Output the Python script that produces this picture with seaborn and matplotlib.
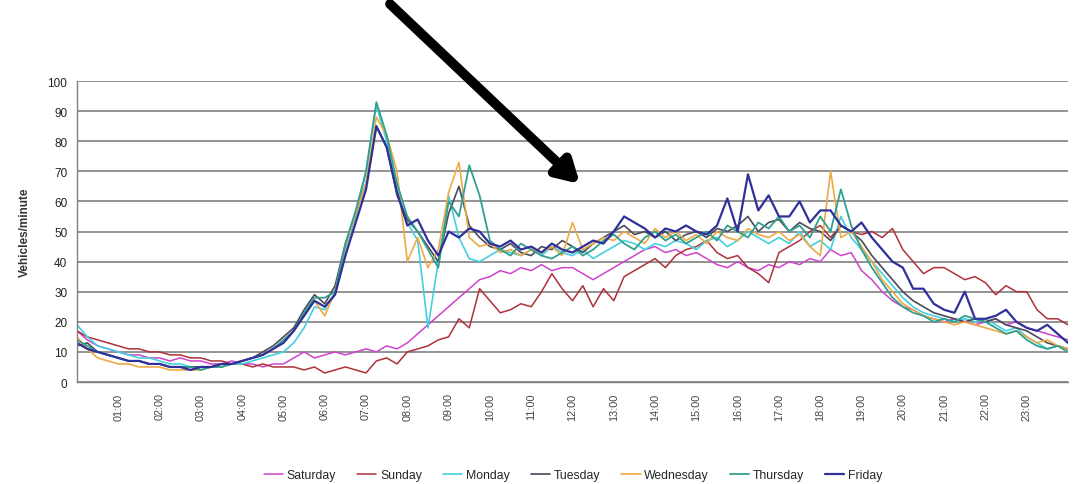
import numpy as np
import pandas as pd
import matplotlib
matplotlib.use("Agg")
import matplotlib.pyplot as plt
from matplotlib.ticker import MultipleLocator, FixedLocator
import seaborn as sns

# ---------- Data (vehicles/minute, 15 minute steps 00:00 -> 24:00) ----------
days = ["Saturday", "Sunday", "Monday", "Tuesday", "Wednesday", "Thursday", "Friday"]
colors = ["#cc44cc", "#b0303a", "#44d0e0", "#4a4a5a", "#eeaa44", "#30a090", "#30309a"]
widths = [1.1, 1.1, 1.2, 1.2, 1.2, 1.3, 1.6]

saturday = [17, 14, 12, 11, 10, 9, 9, 8, 8, 7, 8, 7,
            7, 6, 6, 7, 6, 6, 5, 6, 6, 8, 10, 8,
            9, 10, 9, 10, 11, 10, 12, 11, 13, 16, 19, 22,
            25, 28, 31, 34, 35, 37, 36, 38, 37, 39, 37, 38,
            38, 36, 34, 36, 38, 40, 42, 44, 45, 43, 44, 42,
            43, 41, 39, 38, 40, 38, 37, 39, 38, 40, 39, 41,
            40, 44, 42, 43, 37, 34, 30, 27, 25, 24, 22, 21,
            20, 21, 20, 19, 20, 21, 19, 20, 18, 17, 16, 15, 14]
sunday = [17, 15, 14, 13, 12, 11, 11, 10, 10, 9, 9, 8,
          8, 7, 7, 6, 6, 5, 6, 5, 5, 5, 4, 5,
          3, 4, 5, 4, 3, 7, 8, 6, 10, 11, 12, 14,
          15, 21, 18, 31, 27, 23, 24, 26, 25, 30, 36, 31,
          27, 32, 25, 31, 27, 35, 37, 39, 41, 38, 42, 44,
          45, 47, 43, 41, 42, 38, 36, 33, 43, 45, 47, 50,
          52, 48, 52, 50, 49, 50, 48, 51, 44, 40, 36, 38,
          38, 36, 34, 35, 33, 29, 32, 30, 30, 24, 21, 21, 19]
monday = [19, 15, 12, 11, 10, 9, 8, 8, 7, 6, 6, 5,
          5, 5, 5, 6, 6, 7, 8, 9, 10, 13, 18, 25,
          24, 30, 44, 55, 70, 92, 80, 64, 53, 47, 18, 40,
          62, 48, 41, 40, 42, 44, 43, 42, 44, 42, 45, 43,
          42, 44, 41, 43, 45, 47, 46, 44, 46, 45, 47, 46,
          44, 47, 48, 45, 47, 50, 48, 46, 48, 46, 50, 45,
          47, 44, 55, 48, 44, 40, 36, 32, 28, 25, 23, 22,
          21, 20, 21, 20, 21, 19, 17, 18, 15, 13, 11, 12, 11]
tuesday = [12, 13, 10, 9, 8, 7, 7, 6, 6, 5, 5, 5,
           5, 5, 6, 6, 7, 8, 10, 12, 15, 18, 24, 29,
           26, 32, 46, 56, 66, 85, 78, 62, 54, 50, 45, 40,
           56, 65, 52, 48, 45, 44, 46, 43, 42, 45, 44, 47,
           45, 43, 46, 48, 50, 52, 49, 50, 48, 50, 47, 49,
           50, 48, 51, 50, 52, 55, 50, 53, 54, 50, 53, 51,
           50, 47, 52, 50, 47, 42, 38, 34, 30, 27, 25, 23,
           22, 21, 20, 21, 20, 21, 19, 18, 17, 15, 13, 12, 11]
wednesday = [15, 11, 8, 7, 6, 6, 5, 5, 5, 4, 4, 4,
             4, 5, 5, 6, 7, 8, 9, 11, 13, 17, 22, 27,
             22, 30, 45, 56, 66, 88, 82, 70, 40, 48, 38, 44,
             63, 73, 48, 45, 46, 43, 44, 42, 44, 43, 45, 42,
             53, 44, 46, 48, 47, 50, 48, 46, 51, 48, 50, 47,
             49, 46, 50, 48, 47, 51, 49, 48, 50, 47, 49, 45,
             42, 70, 48, 50, 45, 40, 34, 30, 26, 24, 22, 21,
             20, 19, 20, 19, 18, 17, 16, 17, 15, 13, 14, 12, 11]
thursday = [14, 12, 10, 9, 8, 7, 7, 6, 6, 5, 5, 5,
            4, 5, 5, 6, 7, 8, 9, 11, 14, 17, 23, 28,
            28, 30, 46, 57, 70, 93, 82, 66, 55, 50, 44, 38,
            60, 55, 72, 62, 47, 44, 42, 46, 44, 42, 41, 43,
            45, 42, 44, 47, 49, 46, 44, 48, 50, 47, 49, 46,
            48, 50, 47, 52, 50, 48, 53, 51, 55, 50, 52, 48,
            55, 50, 64, 52, 44, 38, 33, 28, 25, 23, 22, 20,
            21, 20, 22, 21, 20, 18, 16, 17, 14, 12, 11, 12, 10]
friday = [13, 11, 10, 9, 8, 7, 7, 6, 6, 5, 5, 4,
          5, 5, 6, 6, 7, 8, 9, 11, 13, 17, 22, 27,
          25, 29, 42, 53, 64, 85, 78, 63, 52, 54, 47, 42,
          50, 48, 51, 50, 46, 45, 47, 44, 45, 43, 46, 44,
          43, 45, 47, 46, 50, 55, 53, 51, 48, 51, 50, 52,
          50, 49, 52, 61, 50, 69, 57, 62, 55, 55, 60, 53,
          57, 57, 52, 50, 53, 48, 44, 40, 38, 31, 31, 26,
          24, 23, 30, 21, 21, 22, 24, 20, 18, 17, 19, 16, 13]

series = [saturday, sunday, monday, tuesday, wednesday, thursday, friday]
hours = np.arange(len(saturday)) * 0.25
hour_labels = [f"{h:02d}:00" for h in range(1, 24)]

# ---------- Plot ----------
sns.set_style("white")
plt.rcParams["font.family"] = ["Liberation Sans", "DejaVu Sans"]

fig = plt.figure(figsize=(10.74, 4.85), dpi=100)
ax = fig.add_axes([0.0717, 0.2103, 0.9227, 0.6206])

for day, vals, c, w in zip(days, series, colors, widths):
    df = pd.DataFrame({"hour": hours, "vehicles": vals})
    sns.lineplot(data=df, x="hour", y="vehicles", color=c, linewidth=w,
                 label=day, ax=ax, estimator=None)

ax.set_xlim(0, 24)
ax.set_ylim(0, 100)
ax.yaxis.set_major_locator(MultipleLocator(10))
ax.xaxis.set_major_locator(FixedLocator(list(range(1, 24))))
ax.xaxis.set_minor_locator(MultipleLocator(0.5))
ax.set_xticklabels(hour_labels, rotation=90, fontsize=7.8, color="#444444")
ax.tick_params(axis="y", labelsize=8.5, length=4, width=0.8, color="#808080",
               direction="out", pad=3, labelcolor="#222222")
ax.tick_params(axis="x", which="both", direction="inout", color="#808080", width=0.8)
ax.tick_params(axis="x", which="major", length=5, pad=5)
ax.tick_params(axis="x", which="minor", length=4)

ax.grid(axis="y", color="#8a8a8a", linewidth=1.3)
ax.set_axisbelow(True)
for side in ["top", "right"]:
    ax.spines[side].set_visible(False)
for side in ["left", "bottom"]:
    ax.spines[side].set_color("#808080")
    ax.spines[side].set_linewidth(1.0)

ax.set_xlabel("")
ax.set_ylabel("Vehicles/minute", fontsize=8.5, fontweight="bold",
              color="#333333", labelpad=12)

handles, labels = ax.get_legend_handles_labels()
ax.get_legend().remove()
fig.legend(handles, labels, loc="center", bbox_to_anchor=(573 / 1074, 1 - 476 / 485),
           ncol=7, frameon=False, fontsize=8.8, handlelength=1.6,
           handletextpad=0.3, columnspacing=1.7)

# black pointer arrow
ax.annotate("", xy=(580 / 1074, 1 - 185 / 485), xycoords="figure fraction",
            xytext=(390 / 1074, 1 - 5 / 485), textcoords="figure fraction",
            arrowprops=dict(arrowstyle="-|>,head_length=1.3,head_width=0.75",
                            color="black", lw=7, shrinkA=0, shrinkB=0))

plt.savefig("out.png", dpi=100)
